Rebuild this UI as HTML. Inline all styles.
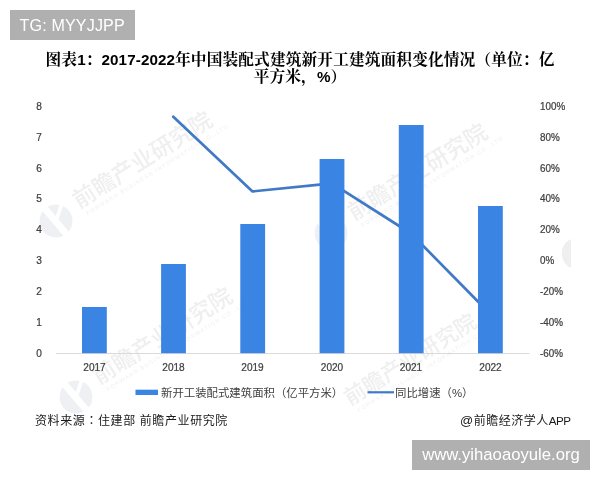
<!DOCTYPE html>
<html><head><meta charset="utf-8">
<style>
html,body{margin:0;padding:0;background:#fff;}
body{width:600px;height:480px;position:relative;overflow:hidden;font-family:"Liberation Sans","Noto Sans CJK SC",sans-serif;}
.tg{position:absolute;left:10px;top:10px;width:125px;height:29.5px;background:#b0b0b0;color:#fff;font-size:16.1px;line-height:30px;text-align:left;padding-left:0;text-indent:9.5px;letter-spacing:0.15px;white-space:nowrap;}
.url{position:absolute;left:412px;top:440px;width:178px;height:29.5px;background:#b0b0b0;color:#fff;font-size:16.7px;line-height:29px;text-align:center;white-space:nowrap;}
.title .n{font-size:15.2px;letter-spacing:0.1px;}
.title{position:absolute;left:0;top:52px;width:600px;text-align:center;font-family:"Liberation Sans","Noto Serif CJK SC",serif;font-weight:bold;font-size:15.7px;line-height:16.5px;letter-spacing:0.12px;color:#000;}
svg{position:absolute;left:0;top:0;}
.src{position:absolute;left:35px;top:410.8px;font-size:12px;color:#1a1a1a;letter-spacing:0.6px;white-space:nowrap;}
.app{position:absolute;right:29.5px;top:411.3px;font-size:12px;color:#1a1a1a;letter-spacing:0.5px;white-space:nowrap;}
</style></head><body>
<svg width="600" height="480" viewBox="0 0 600 480">
<g font-family="'Liberation Sans','Noto Sans CJK SC',sans-serif" font-weight="bold" fill="#efefef">
<g transform="translate(56,221) rotate(-32)"><circle cx="0" cy="0" r="16.5" fill="#eef0f3"/><path d="M-6.5,-17 L0.5,-17 L5.5,17 L-1.5,17 Z M2,-4 L13,-13 L15,-10 L3,0 Z" fill="#fff"/><text x="26" y="2" font-size="22.8" font-weight="500">前瞻产业研究院</text><text x="30" y="12" font-size="5.5" font-weight="normal" letter-spacing="1.3">FORWARD BUSINESS INFORMATION CO.,LTD</text></g>
<g transform="translate(331,233) rotate(-32)"><circle cx="0" cy="0" r="16.5" fill="#eef0f3"/><path d="M-6.5,-17 L0.5,-17 L5.5,17 L-1.5,17 Z M2,-4 L13,-13 L15,-10 L3,0 Z" fill="#fff"/><text x="26" y="2" font-size="22.8" font-weight="500">前瞻产业研究院</text><text x="30" y="12" font-size="5.5" font-weight="normal" letter-spacing="1.3">FORWARD BUSINESS INFORMATION CO.,LTD</text></g>
<g transform="translate(76,397) rotate(-32)"><circle cx="0" cy="0" r="16.5" fill="#eef0f3"/><path d="M-6.5,-17 L0.5,-17 L5.5,17 L-1.5,17 Z M2,-4 L13,-13 L15,-10 L3,0 Z" fill="#fff"/><text x="26" y="2" font-size="22.8" font-weight="500">前瞻产业研究院</text><text x="30" y="12" font-size="5.5" font-weight="normal" letter-spacing="1.3">FORWARD BUSINESS INFORMATION CO.,LTD</text></g>
<g transform="translate(327,418) rotate(-32)"><text x="26" y="2" font-size="21.6" font-weight="500">前瞻产业研究院</text><text x="30" y="12" font-size="5.5" font-weight="normal" letter-spacing="1.3">FORWARD BUSINESS INFORMATION CO.,LTD</text></g>
<path d="M571,239 A16,16 0 0 0 571,268 Z"/>
</g>
<line x1="56" y1="353.5" x2="529.6" y2="353.5" stroke="#dadada" stroke-width="1"/>
<polyline points="173.3,116.8 252.5,191.4 332,183.4 411,233.5 490.5,314.3" fill="none" stroke="#4079c5" stroke-width="2.7" stroke-linejoin="round" stroke-linecap="round"/>
<g fill="#3a84e3">
<rect x="82.0" y="307" width="24.8" height="46.2"/>
<rect x="161.1" y="264" width="24.8" height="89.2"/>
<rect x="240.3" y="224" width="24.8" height="129.2"/>
<rect x="319.6" y="159" width="24.8" height="194.2"/>
<rect x="398.8" y="125" width="24.8" height="228.2"/>
<rect x="478.0" y="206" width="24.8" height="147.2"/>
</g>

<g font-family="'Liberation Sans',sans-serif" font-size="11.2" fill="#404040" stroke="#404040" stroke-width="0.25" text-anchor="middle">
<text transform="translate(39,109.80) scale(0.9,1)">8</text>
<text transform="translate(39,140.65) scale(0.9,1)">7</text>
<text transform="translate(39,171.50) scale(0.9,1)">6</text>
<text transform="translate(39,202.35) scale(0.9,1)">5</text>
<text transform="translate(39,233.20) scale(0.9,1)">4</text>
<text transform="translate(39,264.05) scale(0.9,1)">3</text>
<text transform="translate(39,294.90) scale(0.9,1)">2</text>
<text transform="translate(39,325.75) scale(0.9,1)">1</text>
<text transform="translate(39,356.60) scale(0.9,1)">0</text>
<text transform="translate(94.5,371.3) scale(0.9,1)">2017</text>
<text transform="translate(173.5,371.3) scale(0.9,1)">2018</text>
<text transform="translate(252.5,371.3) scale(0.9,1)">2019</text>
<text transform="translate(332,371.3) scale(0.9,1)">2020</text>
<text transform="translate(411,371.3) scale(0.9,1)">2021</text>
<text transform="translate(490.5,371.3) scale(0.9,1)">2022</text>
</g>
<g font-family="'Liberation Sans',sans-serif" font-size="11.2" fill="#404040" stroke="#404040" stroke-width="0.25" text-anchor="start">
<text transform="translate(540,109.80) scale(0.88,1)">100%</text>
<text transform="translate(540,140.65) scale(0.88,1)">80%</text>
<text transform="translate(540,171.50) scale(0.88,1)">60%</text>
<text transform="translate(540,202.35) scale(0.88,1)">40%</text>
<text transform="translate(540,233.20) scale(0.88,1)">20%</text>
<text transform="translate(540,264.05) scale(0.88,1)">0%</text>
<text transform="translate(540,294.90) scale(0.88,1)">-20%</text>
<text transform="translate(540,325.75) scale(0.88,1)">-40%</text>
<text transform="translate(540,356.60) scale(0.88,1)">-60%</text>
</g>
<rect x="135.5" y="389.7" width="22.5" height="5.3" fill="#3a84e3"/>
<line x1="367.5" y1="392.3" x2="394" y2="392.3" stroke="#4079c5" stroke-width="2.2"/>
<g font-family="'Liberation Sans','Noto Sans CJK SC',sans-serif" font-size="11.4" fill="#404040">
<text x="161" y="396.5">新开工装配式建筑面积（亿平方米）</text>
<text x="395" y="396.5">同比增速（%）</text>
</g>
</svg>
<div class="tg">TG: MYYJJPP</div>
<div class="title">图表<span class="n">1</span>：<span class="n">2017-2022</span>年中国装配式建筑新开工建筑面积变化情况（单位：亿<br>平方米，<span class="n">%</span>）</div>
<div class="src">资料来源<span style="font-family:'Noto Sans CJK TC',sans-serif">：</span>住建部 前瞻产业研究院</div>
<div class="app"><span style="font-size:13px">@</span>前瞻经济学人<span style="font-size:11.6px;letter-spacing:-0.45px">APP</span></div>
<div class="url">www.yihaoaoyule.org</div>
</body></html>
